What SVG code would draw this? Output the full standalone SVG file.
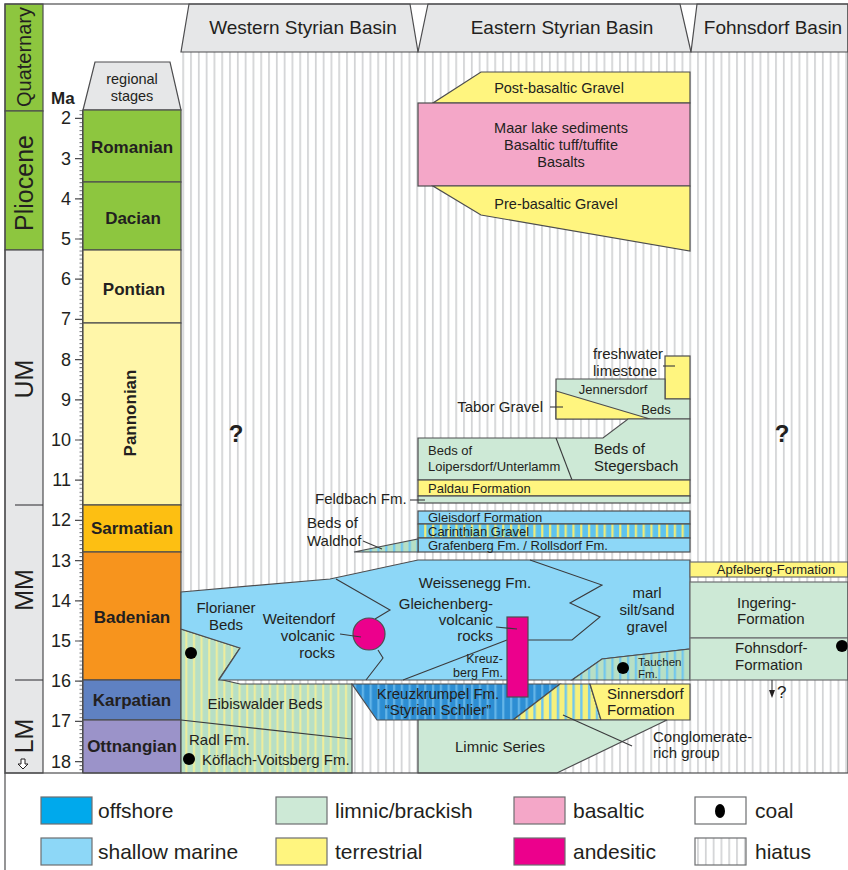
<svg xmlns="http://www.w3.org/2000/svg" width="848" height="870" viewBox="0 0 848 870">
<style>
text{font-family:"Liberation Sans",Arial,sans-serif;fill:#231f20}
.b{font-weight:bold}
.ol{stroke:#4d4d4f;stroke-width:1.2}
.ln{fill:none;stroke:#3a3a3c;stroke-width:1.1}
.gr{fill:#e6e7e8}
.sm{fill:#8dd7f7}
.li{fill:#cde9d6}
.te{fill:#fff57f}
.ba{fill:#f4a7c8}
.an{fill:#ec008c}
.c{text-anchor:middle}
.e{text-anchor:end}
</style>
<defs>
<pattern id="hiatus" width="7.8" height="10" patternUnits="userSpaceOnUse"><rect width="7.8" height="10" fill="#fff"/><rect x="3" width="1.6" height="10" fill="#cfd0d2"/></pattern>
<pattern id="eib" width="7.6" height="10" patternUnits="userSpaceOnUse"><rect width="7.6" height="10" fill="#b7dfc5"/><rect x="3" width="2" height="10" fill="#f0ee9c"/></pattern>
<pattern id="car" width="7.8" height="10" patternUnits="userSpaceOnUse"><rect width="7.8" height="10" fill="#5ec3ef"/><rect x="3" width="2.2" height="10" fill="#f4ec74"/></pattern>
<pattern id="kk" width="7.8" height="10" patternUnits="userSpaceOnUse"><rect width="7.8" height="10" fill="#2d8ed3"/><rect x="3" width="2.2" height="10" fill="#64b5e8"/></pattern>
<pattern id="tm" width="7.8" height="10" patternUnits="userSpaceOnUse"><rect width="7.8" height="10" fill="#f6f07c"/><rect x="3" width="2.4" height="10" fill="#6fc6ef"/></pattern>
<pattern id="gm" width="7.8" height="10" patternUnits="userSpaceOnUse"><rect width="7.8" height="10" fill="#b7dfc5"/><rect x="3" width="2.2" height="10" fill="#6fc6ef"/></pattern>
<pattern id="mt" width="10" height="4.02" patternUnits="userSpaceOnUse" patternTransform="translate(0,1.32)"><rect y="0" width="10" height="1" fill="#6d6e71"/></pattern>
</defs>

<!-- hiatus background of basins -->
<rect x="181" y="52" width="667" height="721" fill="url(#hiatus)"/>

<!-- epoch column -->
<g id="epochs">
<rect x="5" y="4" width="38" height="107" fill="#8dc63f" class="ol"/>
<rect x="5" y="111" width="38" height="139" fill="#8dc63f" class="ol"/>
<rect x="5" y="250" width="38" height="523" class="gr ol"/>
<line x1="15" y1="505" x2="43" y2="505" class="ln"/>
<line x1="15" y1="680" x2="43" y2="680" class="ln"/>
<text transform="translate(31,57) rotate(-90)" class="c" font-size="20">Quaternary</text>
<text transform="translate(33,183) rotate(-90)" class="c" font-size="25">Pliocene</text>
<text transform="translate(33,379) rotate(-90)" class="c" font-size="25">UM</text>
<text transform="translate(33,590) rotate(-90)" class="c" font-size="25">MM</text>
<text transform="translate(33,736) rotate(-90)" class="c" font-size="25">LM</text>
<path d="M21,759 h4 v5 h3 l-5,5 l-5,-5 h3 z" fill="#fff" stroke="#231f20" stroke-width="1"/>
</g>

<!-- Ma scale -->
<g id="ma-scale">
<rect x="79.5" y="110" width="3" height="663" fill="url(#mt)"/>
<line x1="82.5" y1="110" x2="82.5" y2="773" stroke="#4d4d4f" stroke-width="1"/>
<path d="M75,118.4h8M75,158.6h8M75,198.8h8M75,239h8M75,279.2h8M75,319.4h8M75,359.6h8M75,399.8h8M75,440h8M75,480.2h8M75,520.4h8M75,560.6h8M75,600.8h8M75,641h8M75,681.2h8M75,721.4h8M75,761.6h8" stroke="#4d4d4f" stroke-width="1.2"/>
<text x="51" y="104" class="b" font-size="17">Ma</text>
<g font-size="18" class="e">
<text x="71" y="124.4">2</text>
<text x="71" y="164.6">3</text>
<text x="71" y="204.8">4</text>
<text x="71" y="245">5</text>
<text x="71" y="285.2">6</text>
<text x="71" y="325.4">7</text>
<text x="71" y="365.6">8</text>
<text x="71" y="405.8">9</text>
<text x="71" y="446">10</text>
<text x="71" y="486.2">11</text>
<text x="71" y="526.4">12</text>
<text x="71" y="566.6">13</text>
<text x="71" y="606.8">14</text>
<text x="71" y="647">15</text>
<text x="71" y="687.2">16</text>
<text x="71" y="727.4">17</text>
<text x="71" y="767.6">18</text>
</g>
</g>

<!-- regional stages -->
<g id="stages">
<polygon points="95,62 170,62 181,110 83,110" class="gr ol"/>
<text x="132" y="84" class="c" font-size="14.5">regional</text>
<text x="132" y="101" class="c" font-size="14.5">stages</text>
<rect x="83" y="110" width="98" height="72" fill="#8dc63f" class="ol"/>
<rect x="83" y="182" width="98" height="68" fill="#8dc63f" class="ol"/>
<rect x="83" y="250" width="98" height="73" fill="#fff6a9" class="ol"/>
<rect x="83" y="323" width="98" height="182" fill="#fff6a9" class="ol"/>
<rect x="83" y="505" width="98" height="47" fill="#fdbf12" class="ol"/>
<rect x="83" y="552" width="98" height="128" fill="#f7941d" class="ol"/>
<rect x="83" y="680" width="98" height="40" fill="#5f81c2" class="ol"/>
<rect x="83" y="720" width="98" height="53" fill="#9b93c9" class="ol"/>
<g class="b c" font-size="17">
<text x="132" y="153">Romanian</text>
<text x="133" y="224">Dacian</text>
<text x="134" y="295">Pontian</text>
<text transform="translate(136,413) rotate(-90)">Pannonian</text>
<text x="132" y="534">Sarmatian</text>
<text x="132" y="623">Badenian</text>
<text x="132" y="706">Karpatian</text>
<text x="132" y="752">Ottnangian</text>
</g>
</g>

<!-- basin headers -->
<g id="headers">
<polygon points="189,4 410,4 418,52 181,52" class="gr ol"/>
<polygon points="428,4 680,4 691,52 418,52" class="gr ol"/>
<polygon points="697,4 848,4 848,52 691,52" class="gr ol"/>
<g font-size="19" class="c">
<text x="303" y="34">Western Styrian Basin</text>
<text x="562" y="34">Eastern Styrian Basin</text>
<text x="773" y="34">Fohnsdorf Basin</text>
</g>
</g>

<!-- Eastern Styrian Basin Pliocene -->
<g id="post-basaltic-gravel">
<polygon points="481,72 690,72 690,103 433,103" class="te ol"/>
<text x="559" y="93" class="c" font-size="14.5">Post-basaltic Gravel</text>
</g>
<g id="basaltic">
<rect x="418" y="103" width="272" height="83" class="ba ol"/>
<g class="c" font-size="14.5">
<text x="561" y="133">Maar lake sediments</text>
<text x="561" y="150">Basaltic tuff/tuffite</text>
<text x="561" y="167">Basalts</text>
</g>
</g>
<g id="pre-basaltic-gravel">
<polygon points="433,186 690,186 690,251 481,215" class="te ol"/>
<text x="556" y="209" class="c" font-size="14.5">Pre-basaltic Gravel</text>
</g>

<!-- Pannonian -->
<g id="freshwater-limestone">
<rect x="665" y="356" width="25" height="43" class="te ol"/>
<text x="593" y="359" font-size="15">freshwater</text>
<text x="593" y="376" font-size="15">limestone</text>
</g>
<g id="jennersdorf-beds">
<polygon points="556,379 665,379 665,399 690,399 690,419 556,419" class="li ol"/>
<text x="613" y="394" class="c" font-size="13">Jennersdorf</text>
<text x="656" y="414" class="c" font-size="13">Beds</text>
</g>
<g id="tabor-gravel">
<polygon points="556,391 650,419 556,419" class="te ol"/>
<text x="543" y="412" class="e" font-size="15">Tabor Gravel</text>
</g>
<g id="stegersbach-beds">
<polygon points="418,438 603,438 628,419 690,419 690,480 418,480" class="li ol"/>
<line x1="556" y1="438" x2="572" y2="480" class="ln"/>
<text x="428" y="455" font-size="13">Beds of</text>
<text x="428" y="471" font-size="13">Loipersdorf/Unterlamm</text>
<text x="594" y="454" font-size="15">Beds of</text>
<text x="594" y="471" font-size="15">Stegersbach</text>
</g>
<g id="paldau-formation">
<rect x="418" y="480" width="272" height="16" class="te ol"/>
<text x="428" y="493" font-size="13">Paldau Formation</text>
</g>
<g id="feldbach-fm">
<rect x="418" y="496" width="272" height="7" class="li ol"/>
<text x="315" y="504" font-size="15">Feldbach Fm.</text>
</g>

<!-- Sarmatian -->
<g id="gleisdorf-formation">
<rect x="418" y="511" width="272" height="13" class="sm ol"/>
<text x="428" y="522" font-size="13">Gleisdorf Formation</text>
</g>
<g id="carinthian-gravel">
<rect x="418" y="524" width="272" height="14" fill="url(#car)" class="ol"/>
<text x="428" y="536" font-size="13">Carinthian Gravel</text>
</g>
<g id="grafenberg-fm">
<rect x="418" y="538" width="272" height="14" class="sm ol"/>
<text x="428" y="550" font-size="13">Grafenberg Fm. / Rollsdorf Fm.</text>
</g>
<g id="beds-of-waldhof">
<polygon points="354,552 418,539 418,552" fill="url(#gm)" class="ol"/>
<text x="307" y="528" font-size="15">Beds of</text>
<text x="307" y="546" font-size="15">Waldhof</text>
</g>

<!-- Western Styrian: Eibiswald -->
<g id="eibiswalder-beds">
<polygon points="181,629 240,648 219,679 240,684 352,684 352,773 181,773" fill="url(#eib)" class="ol"/>
<line x1="181" y1="720" x2="352" y2="739" class="ln"/>
<text x="265" y="709" class="c" font-size="15">Eibiswalder Beds</text>
<text x="189" y="745" font-size="15">Radl Fm.</text>
<text x="202" y="765" font-size="15">Köflach-Voitsberg Fm.</text>
<circle cx="191" cy="653" r="6" fill="#000"/>
<circle cx="189" cy="759" r="6" fill="#000"/>
</g>

<!-- Badenian shallow marine -->
<g id="shallow-marine-badenian">
<polygon points="181,592 330,579 418,560 690,560 690,649 602,659 572,680 219,680 240,648 181,629" class="sm ol"/>
<polyline points="336,579 390,610 375,619" class="ln"/>
<polyline points="378,650 383,658 366,680" class="ln"/>
<polyline points="530,560 602,585 570,603 600,617 572,640 528,640" class="ln"/>
<line x1="403" y1="680" x2="507" y2="640" class="ln"/>
<text x="226" y="613" class="c" font-size="15">Florianer</text>
<text x="226" y="630" class="c" font-size="15">Beds</text>
<text x="335" y="624" class="e" font-size="15">Weitendorf</text>
<text x="335" y="641" class="e" font-size="15">volcanic</text>
<text x="335" y="658" class="e" font-size="15">rocks</text>
<text x="475" y="588" class="c" font-size="15">Weissenegg Fm.</text>
<text x="493" y="609" class="e" font-size="15">Gleichenberg-</text>
<text x="493" y="625" class="e" font-size="15">volcanic</text>
<text x="493" y="641" class="e" font-size="15">rocks</text>
<text x="503" y="663" class="e" font-size="12.5">Kreuz-</text>
<text x="503" y="677" class="e" font-size="12.5">berg Fm.</text>
<text x="647" y="598" class="c" font-size="15">marl</text>
<text x="647" y="615" class="c" font-size="15">silt/sand</text>
<text x="647" y="632" class="c" font-size="15">gravel</text>
</g>
<g id="weitendorf-volcanic">
<circle cx="369" cy="634" r="16" class="an ol"/>
</g>
<g id="tauchen-fm">
<polygon points="572,680 602,659 690,649 690,680" fill="url(#gm)" class="ol"/>
<circle cx="623" cy="668" r="6" fill="#000"/>
<text x="638" y="666" font-size="11.5">Tauchen</text>
<text x="638" y="678" font-size="11.5">Fm.</text>
</g>

<!-- Karpatian -->
<g id="kreuzkrumpel-fm">
<polygon points="352,684 560,684 513,720 377,720" fill="url(#kk)" class="ol"/>
<text x="438" y="699" class="c" font-size="15">Kreuzkrumpel Fm.</text>
<text x="438" y="715" class="c" font-size="15">“Styrian Schlier”</text>
</g>
<g id="terrestrial-marine-mix">
<polygon points="560,684 590,684 601,720 513,720" fill="url(#tm)" class="ol"/>
</g>
<g id="sinnersdorf-formation">
<polygon points="590,684 690,684 690,720 601,720" class="te ol"/>
<text x="607" y="699" font-size="15">Sinnersdorf</text>
<text x="607" y="715" font-size="15">Formation</text>
</g>
<g id="gleichenberg-volcanic">
<rect x="507" y="617" width="21" height="80" class="an ol"/>
</g>

<!-- Ottnangian -->
<g id="limnic-series">
<polygon points="418,720 667,720 557,773 418,773" class="li ol"/>
<text x="500" y="752" class="c" font-size="15">Limnic Series</text>
</g>
<g id="conglomerate-rich-group">
<text x="653" y="742" font-size="15">Conglomerate-</text>
<text x="653" y="758" font-size="15">rich group</text>
</g>

<!-- Fohnsdorf Basin -->
<g id="apfelberg-formation">
<rect x="690" y="562" width="158" height="15" class="te" stroke="#6d6e71" stroke-width="1.2"/>
<text x="776" y="574" class="c" font-size="13">Apfelberg-Formation</text>
</g>
<g id="ingering-formation">
<rect x="690" y="582" width="158" height="56" class="li" stroke="#6d6e71" stroke-width="1.2"/>
<text x="737" y="608" font-size="15">Ingering-</text>
<text x="737" y="624" font-size="15">Formation</text>
</g>
<g id="fohnsdorf-formation">
<rect x="690" y="638" width="158" height="42" class="li" stroke="#6d6e71" stroke-width="1.2"/>
<text x="735" y="653" font-size="15">Fohnsdorf-</text>
<text x="735" y="670" font-size="15">Formation</text>
<circle cx="842" cy="646" r="6" fill="#000"/>
</g>

<!-- question marks -->
<text x="236" y="442" class="b c" font-size="24">?</text>
<text x="782" y="442" class="b c" font-size="24">?</text>

<!-- connectors / leader lines -->
<g id="connectors" class="ln">
<line x1="663" y1="366" x2="675" y2="366"/>
<line x1="550" y1="407" x2="563" y2="407"/>
<line x1="410" y1="500" x2="425" y2="500"/>
<line x1="363" y1="541" x2="382" y2="549"/>
<line x1="340" y1="634" x2="361" y2="637"/>
<line x1="496" y1="627" x2="517" y2="629"/>
<line x1="563" y1="715" x2="632" y2="746"/>
<line x1="772" y1="680" x2="772" y2="692"/>
<path d="M769,690 L772,698 L775,690 Z" fill="#231f20" stroke="none"/>
</g>
<text x="777" y="698" font-size="17">?</text>

<!-- outer frame -->
<rect x="5" y="4" width="843" height="769" fill="none" stroke="#4d4d4f" stroke-width="1.2"/>
<line x1="5" y1="773" x2="5" y2="870" stroke="#4d4d4f" stroke-width="1.2"/>

<!-- legend -->
<g id="legend">
<g stroke="#6d6e71" stroke-width="1.2">
<rect x="41" y="797" width="51" height="27" fill="#00a9ec"/>
<rect x="41" y="838" width="51" height="27" fill="#8dd7f7"/>
<rect x="276" y="797" width="51" height="27" fill="#cde9d6"/>
<rect x="276" y="838" width="51" height="27" fill="#fff57f"/>
<rect x="514" y="797" width="51" height="27" fill="#f4a7c8"/>
<rect x="514" y="838" width="51" height="27" fill="#ec008c"/>
<rect x="695" y="797" width="51" height="27" fill="#fff"/>
<rect x="695" y="838" width="51" height="27" fill="url(#hiatus)"/>
</g>
<ellipse cx="720" cy="811" rx="5" ry="7" fill="#000"/>
<g font-size="21">
<text x="98" y="818">offshore</text>
<text x="98" y="859">shallow marine</text>
<text x="335" y="818">limnic/brackish</text>
<text x="335" y="859">terrestrial</text>
<text x="573" y="818">basaltic</text>
<text x="573" y="859">andesitic</text>
<text x="755" y="818">coal</text>
<text x="755" y="859">hiatus</text>
</g>
</g>
</svg>
